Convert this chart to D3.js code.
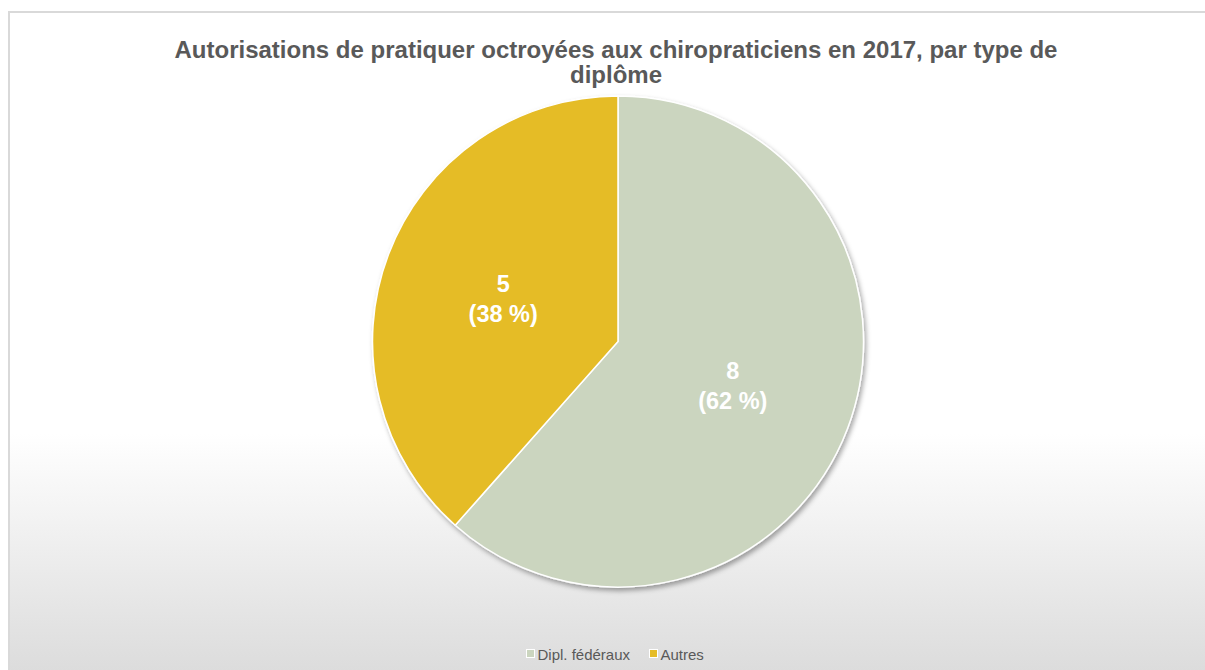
<!DOCTYPE html>
<html>
<head>
<meta charset="utf-8">
<title>Autorisations chiropraticiens 2017</title>
<script src="https://d3js.org/d3.v7.min.js"></script>
<style>
  body { margin: 0; background: #fff; }
  svg { display: block; }
  text { font-family: "Liberation Sans", Arial, sans-serif; }
</style>
</head>
<body>
<svg id="chart" width="1205" height="670"></svg>
<script>
const categories = ["Dipl. fédéraux", "Autres"]
const values = [8, 5]
const colors = ["#cbd5bf", "#e5bc27"]
const titleLines = ["Autorisations de pratiquer octroyées aux chiropraticiens en 2017, par type de", "diplôme"]

const svg = d3.select("#chart")
const W = 1205, H = 670

// background gradient + border
const defs = svg.append("defs")
const grad = defs.append("linearGradient")
  .attr("id", "bg").attr("x1", 0).attr("y1", 0).attr("x2", 0).attr("y2", 1)
grad.append("stop").attr("offset", "0.62").attr("stop-color", "#ffffff")
grad.append("stop").attr("offset", "1").attr("stop-color", "#d9d9d9")

const shadow = defs.append("filter").attr("id", "shadow")
  .attr("x", "-10%").attr("y", "-10%").attr("width", "130%").attr("height", "130%")
shadow.append("feDropShadow")
  .attr("dx", 2).attr("dy", 3).attr("stdDeviation", 2.5)
  .attr("flood-color", "#000").attr("flood-opacity", 0.35)

svg.append("rect")
  .attr("x", 9).attr("y", 12).attr("width", W + 10).attr("height", H + 10)
  .attr("fill", "url(#bg)")
  .attr("stroke", "#d9d9d9").attr("stroke-width", 2)

// title
svg.append("g").selectAll("text")
  .data(titleLines).enter()
  .append("text")
  .attr("x", 616)
  .attr("y", (d, i) => 58 + i * 25)
  .attr("text-anchor", "middle")
  .attr("font-size", 24).attr("font-weight", "bold")
  .attr("fill", "#595959")
  .text(d => d)

// pie
const cx = 618, cy = 341.5, r = 245.5
const total = d3.sum(values)
const pie = d3.pie().sort(null).value(d => d)
const arcs = pie(values)
const arc = d3.arc().innerRadius(0).outerRadius(r)

const g = svg.append("g").attr("transform", `translate(${cx},${cy})`)

g.append("g").attr("filter", "url(#shadow)")
  .selectAll("path")
  .data(arcs).enter()
  .append("path")
  .attr("d", arc)
  .attr("fill", (d, i) => colors[i])
  .attr("stroke", "#fff").attr("stroke-width", 1.5)

// data labels
const labels = g.append("g").selectAll("text")
  .data(arcs).enter()
  .append("text")
  .attr("transform", d => `translate(${arc.centroid(d)})`)
  .attr("text-anchor", "middle")
  .attr("font-size", 23.5).attr("font-weight", "bold")
  .attr("fill", "#fff")
labels.append("tspan").attr("x", 0).attr("y", -6).text(d => d.value)
labels.append("tspan").attr("x", 0).attr("y", 24)
  .text(d => "(" + Math.round(d.value / total * 100) + " %)")

// legend
const legend = svg.append("g").attr("transform", "translate(0,654)")
const legendX = [526, 649]
const items = legend.selectAll("g")
  .data(categories).enter()
  .append("g")
  .attr("transform", (d, i) => `translate(${legendX[i]},0)`)
items.append("rect")
  .attr("x", 0.5).attr("y", -4.5).attr("width", 8).attr("height", 8)
  .attr("fill", (d, i) => colors[i])
  .attr("stroke", "#fff").attr("stroke-width", 1)
items.append("text")
  .attr("x", 11.5).attr("y", 5.5)
  .attr("font-size", 15).attr("fill", "#595959")
  .text(d => d)
</script>
</body>
</html>
